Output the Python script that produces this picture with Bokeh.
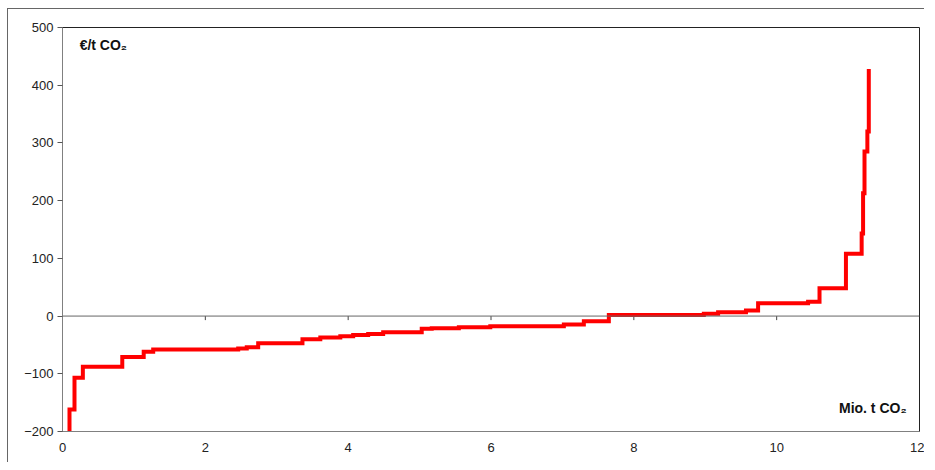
from bokeh.plotting import figure
from bokeh.models import Span, Label, FixedTicker, Range1d
from bokeh.embed import file_html
from bokeh.resources import INLINE

# Marginal abatement cost curve (step levels)
step_x = [0.00, 0.098, 0.168, 0.285, 0.837, 1.137, 1.27, 2.46, 2.58, 2.74,
          3.36, 3.61, 3.89, 4.07, 4.28, 4.49, 5.03, 5.17, 5.55, 5.99,
          7.02, 7.30, 7.65, 8.98, 9.18, 9.57, 9.74, 10.44, 10.60, 10.97,
          11.19, 11.21, 11.23, 11.27, 11.29]
step_y = [-300, -162, -107, -88, -71, -62, -58, -56, -54, -47,
          -40, -37, -35, -33, -31, -28, -22, -21, -19.5, -17.5,
          -14.5, -9, 2, 4, 6.5, 9.5, 22, 25, 48, 108,
          143, 213, 285, 320, 428]

x_ticks = [0, 2, 4, 6, 8, 10, 12]
y_ticks = [-200, -100, 0, 100, 200, 300, 400, 500]
y_label = "€/t CO₂"
x_label = "Mio. t CO₂"

FONT = "Liberation Sans"

p = figure(width=917, height=454, output_backend="svg", toolbar_location=None,
           x_range=Range1d(0, 12), y_range=Range1d(-200, 500),
           min_border_left=54, min_border_top=18, min_border_right=6, min_border_bottom=32,
           margin=(8, 0, 0, 7),
           styles={"border-top": "1px solid #666", "border-left": "1px solid #666"})

p.background_fill_color = "white"
p.border_fill_color = "white"
p.outline_line_color = "#222222"
p.outline_line_width = 1
p.xgrid.visible = False
p.ygrid.visible = False

# axes
p.xaxis.ticker = FixedTicker(ticks=x_ticks)
p.yaxis.ticker = FixedTicker(ticks=y_ticks)
for ax in (p.xaxis[0], p.yaxis[0]):
    ax.axis_line_color = "#808080"
    ax.major_label_text_font = FONT
    ax.major_label_text_font_size = "13px"
    ax.major_label_text_color = "#222222"
    ax.minor_tick_line_color = None
p.xaxis.major_tick_line_color = None
p.xaxis.major_tick_out = 0
p.xaxis.major_tick_in = 0
p.xaxis.major_label_standoff = 11
p.yaxis.major_tick_line_color = "#555555"
p.yaxis.major_tick_out = 5
p.yaxis.major_tick_in = 0
p.yaxis.major_label_standoff = 4

# zero line with tick marks hanging from it
p.add_layout(Span(location=0, dimension="width", line_color="#666666", line_width=1))
inner = [t for t in x_ticks if 0 < t < 12]
p.segment(x0=inner, y0=[0] * len(inner), x1=inner, y1=[-7] * len(inner),
          line_color="#444444", line_width=1)

# the curve
p.step(step_x, step_y, mode="after", line_color="#ff0000", line_width=4,
       line_join="miter")

p.add_layout(Label(x=0.24, y=469, text=y_label, text_font=FONT, text_font_size="14px",
                   text_font_style="bold", text_baseline="middle", text_color="#111111"))
p.add_layout(Label(x=11.82, y=-160, text=x_label, text_font=FONT, text_font_size="14px",
                   text_font_style="bold", text_baseline="middle", text_align="right",
                   text_color="#111111"))

open("out.html", "w").write(file_html(p, INLINE))
